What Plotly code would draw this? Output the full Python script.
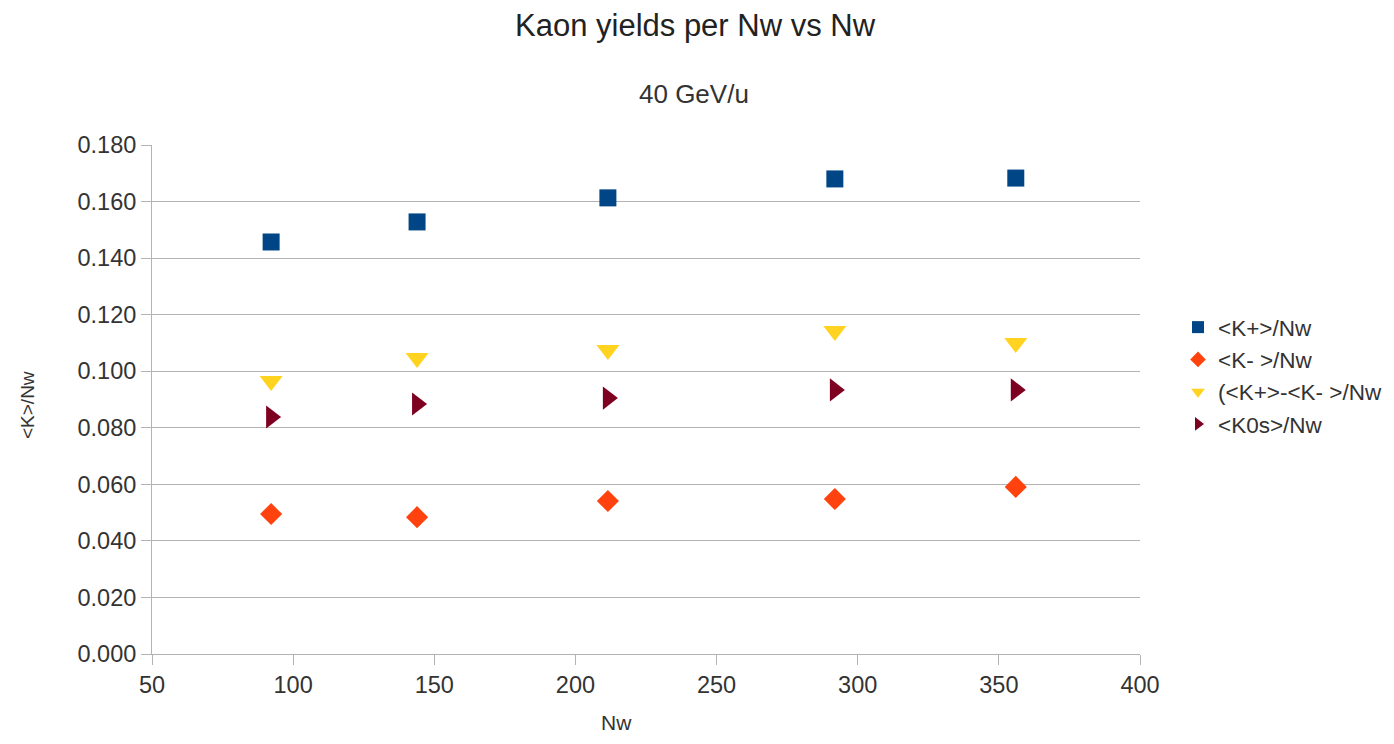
import plotly.graph_objects as go

nw = [92.2, 143.9, 211.5, 291.9, 356.0]
k_plus = [0.1457, 0.1528, 0.1613, 0.1680, 0.1683]
k_minus = [0.0495, 0.0484, 0.0541, 0.0548, 0.0591]
k_diff = [0.0965, 0.1047, 0.1075, 0.1142, 0.1100]
k0s = [0.0838, 0.0884, 0.0905, 0.0934, 0.0934]

series = [
    ("<K+>/Nw", k_plus, "square", "#004586", 17),
    ("<K- >/Nw", k_minus, "diamond", "#ff420e", 17),
    ("(<K+>-<K- >/Nw", k_diff, "triangle-down", "#ffd320", 20),
    ("<K0s>/Nw", k0s, "triangle-right", "#7e0021", 20),
]

# page has an 8px body margin: plot area spans page x 152..1140, y 145..654
OFF = 8
PL, PR, PT, PB = 152, 1140, 145, 654
W, H = 1394 - 2 * OFF, 744 - 2 * OFF
PW, PH = PR - PL, PB - PT


def px(x):
    return (x - PL) / PW


def py(y):
    return (PB - y) / PH


fig = go.Figure()
for name, vals, sym, col, sz in series:
    fig.add_trace(go.Scatter(
        x=nw, y=vals, mode="markers", name=name,
        marker=dict(symbol=sym, color=col, size=sz, line=dict(width=0)),
    ))

fig.update_layout(
    width=W, height=H,
    paper_bgcolor="white", plot_bgcolor="white",
    margin=dict(l=PL - OFF, r=W - (PR - OFF), t=PT - OFF, b=H - (PB - OFF), autoexpand=False),
    font=dict(family="Liberation Sans, Arial, sans-serif", color="#333333", size=20),
    showlegend=True,
    legend=dict(x=px(1178), y=py(306), xanchor="left", yanchor="top",
                font=dict(size=22.5, color="#333333"), itemsizing="constant",
                tracegroupgap=0, bgcolor="rgba(0,0,0,0)"),
)
fig.add_annotation(text="Kaon yields per Nw vs Nw", xref="paper", yref="paper",
                   x=px(695), y=py(25), showarrow=False,
                   font=dict(size=31, color="#222222"), xanchor="center", yanchor="middle")
fig.add_annotation(text="40 GeV/u", xref="paper", yref="paper",
                   x=px(694), y=py(94), showarrow=False,
                   font=dict(size=26, color="#333333"), xanchor="center", yanchor="middle")
fig.add_annotation(text="Nw", xref="paper", yref="paper",
                   x=px(616), y=py(735), showarrow=False, borderpad=0,
                   font=dict(size=21, color="#333333"), xanchor="center", yanchor="bottom")
fig.add_annotation(text="<K>/Nw", xref="paper", yref="paper",
                   x=px(27), y=py(405), showarrow=False, textangle=-90,
                   font=dict(size=19, color="#333333"), xanchor="center", yanchor="middle")

fig.update_xaxes(
    range=[50, 400], tick0=50, dtick=50, showgrid=False,
    showline=True, linecolor="#b3b3b3", linewidth=1,
    ticks="outside", ticklen=10, tickcolor="#b3b3b3",
    tickfont=dict(size=23.5, color="#333333"),
    zeroline=False,
)
fig.update_yaxes(
    range=[0, 0.18], tick0=0, dtick=0.02, tickformat=".3f",
    showgrid=True, gridcolor="#b3b3b3", gridwidth=1,
    showline=True, linecolor="#b3b3b3", linewidth=1,
    ticks="outside", ticklen=10, tickcolor="#b3b3b3",
    tickfont=dict(size=23.5, color="#333333"),
    zeroline=False,
)

fig.write_html("out.html")
